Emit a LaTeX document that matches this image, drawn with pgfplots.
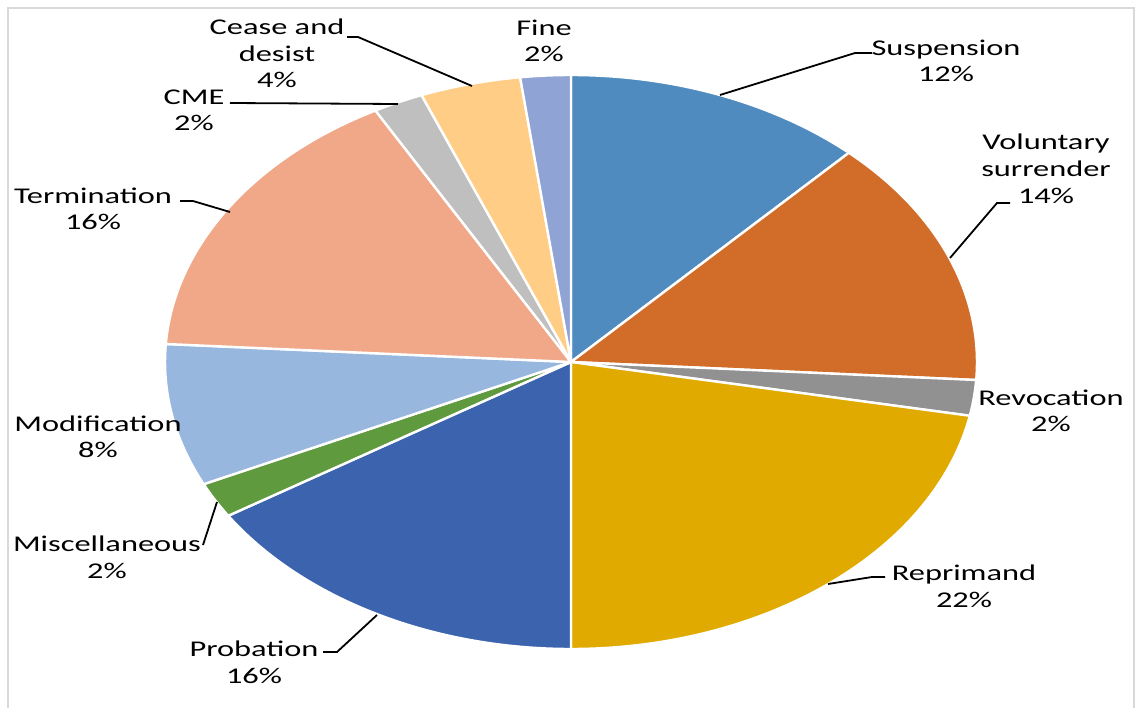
\documentclass[border=0pt]{standalone}
\usepackage{pgfplots}
\pgfplotsset{compat=1.18}
\usepackage{pgfplotstable}
\usepackage{fontspec}
\setmainfont{Carlito}[FakeStretch=1.44]
\definecolor{slice0}{HTML}{4F8BBF}
\definecolor{slice1}{HTML}{D26D29}
\definecolor{slice2}{HTML}{919191}
\definecolor{slice3}{HTML}{E1AA00}
\definecolor{slice4}{HTML}{3C64AE}
\definecolor{slice5}{HTML}{5F9A3F}
\definecolor{slice6}{HTML}{97B7DE}
\definecolor{slice7}{HTML}{F0A889}
\definecolor{slice8}{HTML}{BFBFBF}
\definecolor{slice9}{HTML}{FFCD86}
\definecolor{slice10}{HTML}{8FA3D4}
\definecolor{frame}{HTML}{D9D9D9}
\pgfplotstableread[col sep=comma]{
name,value
Suspension,12
Voluntary surrender,14
Revocation,2
Reprimand,22
Probation,16
Miscellaneous,2
Modification,8
Termination,16
CME,2
Cease and desist,4
Fine,2
}\piedata
\begin{document}
\begin{tikzpicture}[lbl/.style={font=\fontsize{6.4}{7.68}\selectfont, align=center, text=black, inner sep=0pt, anchor=base},
  lead/.style={draw=black, line width=0.018cm}]
\begin{axis}[scale only axis, width=11.42cm, height=7.08cm,
  xmin=0, xmax=1142, ymin=0, ymax=708, hide axis, clip=false]
\path (axis cs:0,0) rectangle (axis cs:1142,708);
\draw[frame, line width=0.02cm] (axis cs:8,0) -- (axis cs:8,700) -- (axis cs:1134,700) -- (axis cs:1134,0);
\pgfmathsetmacro{\cum}{0}
\pgfplotsforeachungrouped \i in {0,...,10}{
  \pgfplotstablegetelem{\i}{value}\of\piedata
  \edef\val{\pgfplotsretval}
  \pgfmathsetmacro{\angA}{90-3.6*\cum}
  \pgfmathsetmacro{\angB}{90-3.6*(\cum+\val)}
  \pgfmathsetmacro{\cum}{\cum+\val}
  \edef\temp{\noexpand\fill[fill=slice\i, draw=white, line width=0.024cm, line join=round] (axis cs:571,346) -- +(\angA:4.06cm and 2.87cm) arc[start angle=\angA, end angle=\angB, x radius=4.06cm, y radius=2.87cm] -- cycle;}
  \temp
}
% leader lines
\draw[lead] (axis cs:347,671) -- (axis cs:358,671) -- (axis cs:472,622);
\draw[lead] (axis cs:230,605) -- (axis cs:398,604);
\draw[lead] (axis cs:872,655) -- (axis cs:855,655) -- (axis cs:720,613);
\draw[lead] (axis cs:1010,505) -- (axis cs:997,505) -- (axis cs:950,450);
\draw[lead] (axis cs:885,131) -- (axis cs:872,131) -- (axis cs:828,124);
\draw[lead] (axis cs:323,56) -- (axis cs:337,56) -- (axis cs:377,93);
\draw[lead] (axis cs:203,163) -- (axis cs:217,206);
\draw[lead] (axis cs:180,507) -- (axis cs:193,507) -- (axis cs:230,496);
% labels (anchored at baseline of last line)
\node[lbl] at (axis cs:544,646) {Fine\\2\%};
\node[lbl] at (axis cs:277,620) {Cease and\\desist\\4\%};
\node[lbl] at (axis cs:194,577) {CME\\2\%};
\node[lbl] at (axis cs:946,626) {Suspension\\12\%};
\node[lbl] at (axis cs:1046,505) {Voluntary\\surrender\\14\%};
\node[lbl] at (axis cs:1051,276) {Revocation\\2\%};
\node[lbl] at (axis cs:964,101) {Reprimand\\22\%};
\node[lbl] at (axis cs:254,25) {Probation\\16\%};
\node[lbl] at (axis cs:107,130) {Miscellaneous\\2\%};
\node[lbl] at (axis cs:98,250) {Modification\\8\%};
\node[lbl] at (axis cs:93,478) {Termination\\16\%};
\end{axis}
\end{tikzpicture}
\end{document}
